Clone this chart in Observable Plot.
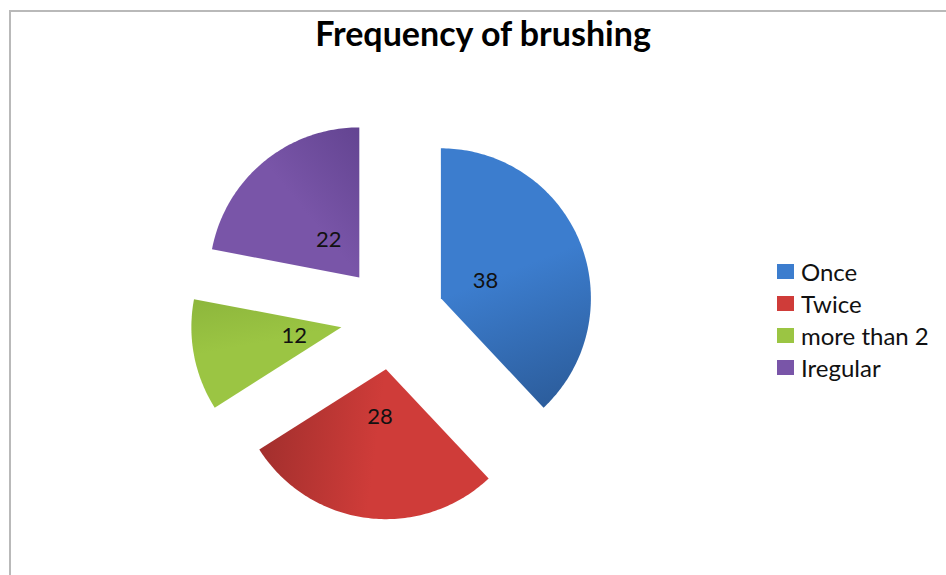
<!DOCTYPE html>
<html><head><meta charset="utf-8">
<script src="https://cdn.jsdelivr.net/npm/d3@7"></script>
<script src="https://cdn.jsdelivr.net/npm/@observablehq/plot@0.6"></script>
<style>
html,body{margin:0;padding:0;background:#fff;overflow:hidden;width:946px;height:575px;}
#frame{position:absolute;left:9px;top:10px;width:2000px;height:2000px;border-left:2px solid #b9b9b9;border-top:2px solid #b9b9b9;}
#title{position:absolute;left:10px;top:12px;width:946px;text-align:center;font:700 34px Lato,sans-serif;color:#000;white-space:nowrap;}
#chart{position:absolute;left:0;top:70px;}
#legend{position:absolute;left:777px;top:256px;font:24px Lato,sans-serif;color:#111;}
.row{display:flex;align-items:center;height:31.8px;white-space:nowrap;}
.sw{width:17px;height:15px;margin-right:7px;flex:none;}
</style></head><body>
<div id="frame"></div>
<div id="title">Frequency of brushing</div>
<div id="chart"></div>
<div id="legend"></div>
<script>
const categories = ["Once", "Twice", "more than 2", "Iregular"];
const values = [38, 28, 12, 22];
const baseColors = ["#3C7DCE", "#CF3C39", "#9BC543", "#7955A8"];
const darkColors = ["#2C5D9C", "#A22F2D", "#8DB63C", "#634491"];

const total = d3.sum(values);
const EXPLODE = 0.347;   // slice offset, as a fraction of the radius
const LABEL_R = 0.667;   // label distance from the common centre
let acc = 0;
const slices = categories.map((c, i) => {
  const a0 = acc / total * 2 * Math.PI;
  acc += values[i];
  const a1 = acc / total * 2 * Math.PI;
  const mid = (a0 + a1) / 2;
  const ox = EXPLODE * Math.sin(mid), oy = EXPLODE * Math.cos(mid);
  const pts = [{x: ox, y: oy}];
  const n = Math.max(2, Math.ceil((a1 - a0) / (Math.PI / 180)));
  for (let k = 0; k <= n; k++) {
    const a = a0 + (a1 - a0) * k / n;
    pts.push({x: ox + Math.sin(a), y: oy + Math.cos(a)});
  }
  pts.push({x: ox, y: oy});
  return {category: c, value: values[i], a0, a1, mid, ox, oy, pts,
          lx: LABEL_R * Math.sin(mid), ly: LABEL_R * Math.cos(mid)};
});

const W = 946, H = 505, R = 150, CX = 392, CY = 247;
const plot = Plot.plot({
  width: W, height: H, margin: 0,
  style: {background: "transparent"},
  x: {domain: [-CX / R, (W - CX) / R], range: [0, W], axis: null},
  y: {domain: [-(H - CY) / R, CY / R], range: [H, 0], axis: null},
  marks: [
    ...slices.map((s, i) => Plot.line(s.pts, {x: "x", y: "y", fill: `url(#slice-grad-${i})`, stroke: "none", curve: "linear"})),
    Plot.text(slices, {x: "lx", y: "ly", text: d => String(d.value), fontSize: 22, fontFamily: "Lato, sans-serif", fill: "#111"})
  ]
});

const sx = plot.scale("x"), sy = plot.scale("y");
const ns = "http://www.w3.org/2000/svg";
const defs = document.createElementNS(ns, "defs");
slices.forEach((s, i) => {
  const g = document.createElementNS(ns, "linearGradient");
  g.setAttribute("id", `slice-grad-${i}`);
  g.setAttribute("gradientUnits", "userSpaceOnUse");
  g.setAttribute("x1", sx.apply(s.ox + Math.sin(s.a0)));
  g.setAttribute("y1", sy.apply(s.oy + Math.cos(s.a0)));
  g.setAttribute("x2", sx.apply(s.ox + Math.sin(s.a1)));
  g.setAttribute("y2", sy.apply(s.oy + Math.cos(s.a1)));
  [[0, baseColors[i]], [0.5, baseColors[i]], [1, darkColors[i]]].forEach(([o, c]) => {
    const st = document.createElementNS(ns, "stop");
    st.setAttribute("offset", o);
    st.setAttribute("stop-color", c);
    g.appendChild(st);
  });
  defs.appendChild(g);
});
plot.insertBefore(defs, plot.firstChild);
document.getElementById("chart").appendChild(plot);

const legend = document.getElementById("legend");
categories.forEach((c, i) => {
  const row = document.createElement("div");
  row.className = "row";
  const sw = document.createElement("div");
  sw.className = "sw";
  sw.style.background = baseColors[i];
  const t = document.createElement("span");
  t.textContent = c;
  row.appendChild(sw); row.appendChild(t);
  legend.appendChild(row);
});
</script>
</body></html>
